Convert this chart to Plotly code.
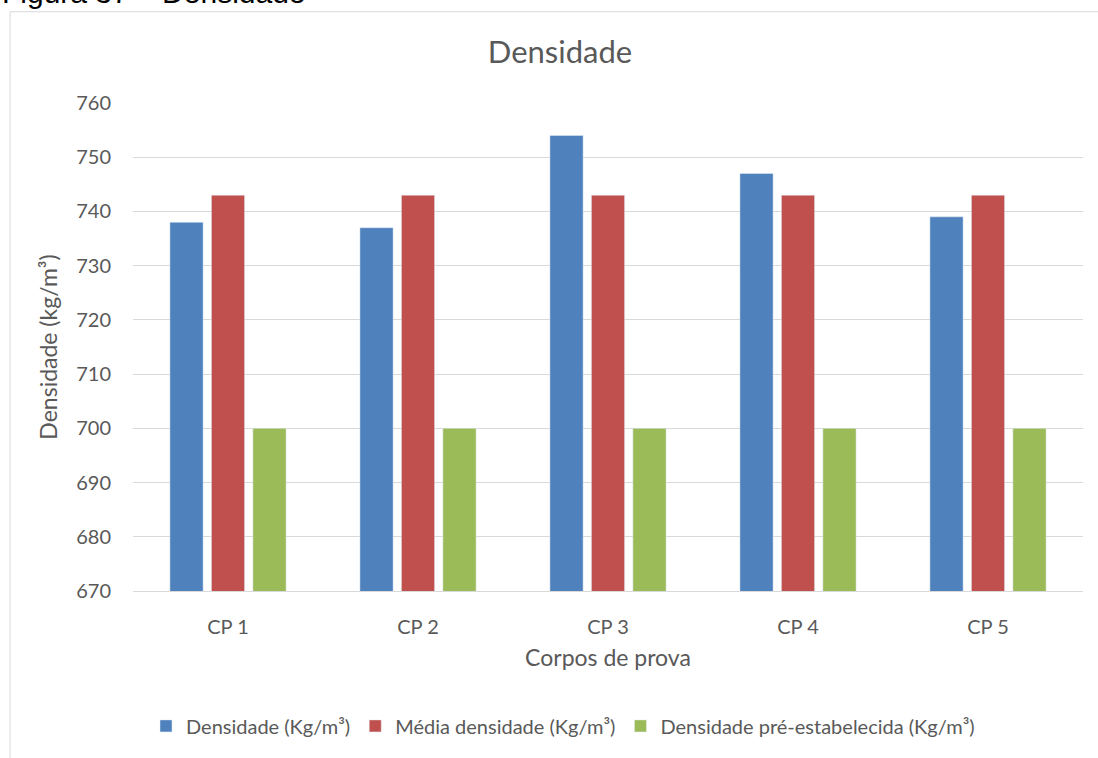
import plotly.graph_objects as go

categories = ["CP 1", "CP 2", "CP 3", "CP 4", "CP 5"]
densidade = [738, 737, 754, 747, 739]
media = [743, 743, 743, 743, 743]
pre_estab = [700, 700, 700, 700, 700]
y_ticks = [670, 680, 690, 700, 710, 720, 730, 740, 750, 760]

FONT = "Lato, Liberation Sans, sans-serif"
GREY = "#595959"

fig = go.Figure()
fig.add_trace(go.Bar(x=categories, y=densidade, name="Densidade (Kg/m³)", marker_color="#4F81BD"))
fig.add_trace(go.Bar(x=categories, y=media, name="Média densidade (Kg/m³)", marker_color="#C0504D"))
fig.add_trace(go.Bar(x=categories, y=pre_estab, name="Densidade pré-estabelecida (Kg/m³)", marker_color="#9BBB59"))

W, H = 1098, 758
L, R, T, B = 133, 15, 103, 163
pw, ph = W - L - R, H - T - B

def px(x):
    return (x - L) / pw

def py(y):
    return (H - B - y) / ph

fig.update_layout(
    width=W, height=H,
    margin=dict(l=L, r=R, t=T, b=B),
    paper_bgcolor="white", plot_bgcolor="white",
    barmode="group", bargap=0.345, bargroupgap=0.2,
    font=dict(family=FONT, color=GREY, size=20),
    title=dict(text="Densidade", x=0.51, xanchor="center", y=1 - 52 / H, yanchor="middle",
               font=dict(size=31, color=GREY, family=FONT)),
    xaxis=dict(title=dict(text="Corpos de prova", font=dict(size=23), standoff=12),
               showline=True, linecolor="#D9D9D9", linewidth=1, ticks="",
               tickfont=dict(size=20), ticklabelstandoff=18),
    yaxis=dict(title=dict(text="Densidade (kg/m³)", font=dict(size=23), standoff=12),
               range=[670, 760], tickvals=y_ticks, showgrid=True, gridcolor="#D9D9D9",
               gridwidth=1, zeroline=False, ticks="", tickfont=dict(size=20), ticklabelstandoff=21),
    legend=dict(orientation="h", x=px(563), xanchor="center", y=py(731), yanchor="middle",
                font=dict(size=20, color=GREY), itemwidth=30, traceorder="normal"),
    showlegend=True,
)

fig.add_shape(type="rect", xref="paper", yref="paper",
              x0=px(10), x1=px(1110), y0=py(770), y1=py(11),
              line=dict(color="#D9D9D9", width=1), fillcolor="rgba(0,0,0,0)", layer="below")

fig.add_annotation(text="Figura 37 – Densidade", xref="paper", yref="paper",
                   x=px(0), xanchor="left", y=py(10), yanchor="bottom", showarrow=False,
                   font=dict(family="Liberation Sans, Arial, sans-serif", size=30, color="black"))

fig.write_html("out.html")
